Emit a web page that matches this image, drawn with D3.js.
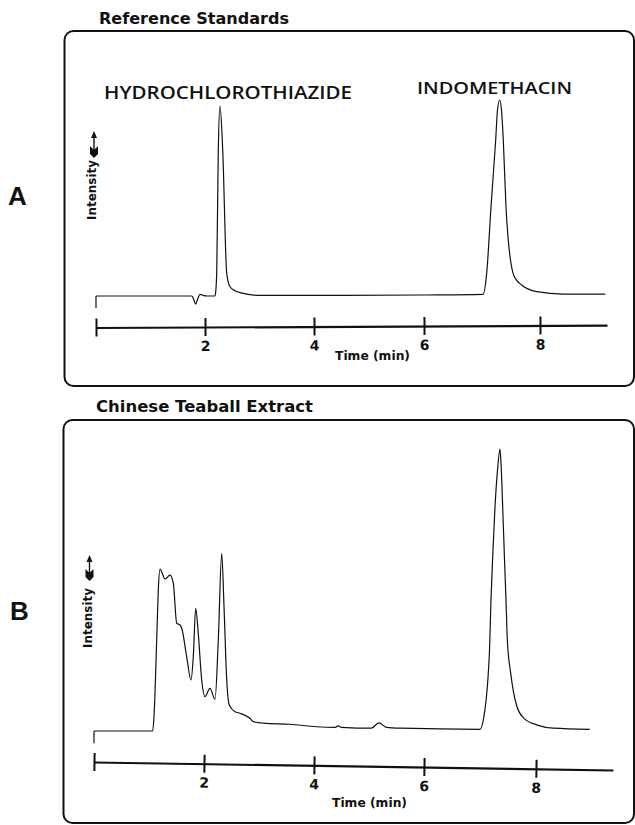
<!DOCTYPE html>
<html>
<head>
<meta charset="utf-8">
<script src="https://cdn.jsdelivr.net/npm/d3@7/dist/d3.min.js"></script>
<style>
  html, body { margin: 0; padding: 0; background: #fff; }
  svg { display: block; }
</style>
</head>
<body>
<svg id="chart" width="635" height="825"></svg>
<script>
// ---------------- DATA ----------------
const timeTicks = [0, 2, 4, 6, 8];
const tickLabels = ["", "2", "4", "6", "8"];
const panelTitles = ["Reference Standards", "Chinese Teaball Extract"];
const panelLetters = ["A", "B"];
const peakNames = ["HYDROCHLOROTHIAZIDE", "INDOMETHACIN"];
const yLabel = "Intensity";
const xLabel = "Time (min)";

// Panel A: reference standards (time in min, intensity in % of full scale)
const refTime = [0, 1.756, 1.79, 1.829, 1.87, 1.908, 1.97, 2.031, 2.183, 2.192, 2.215, 2.244, 2.275, 2.325, 2.398, 2.459, 2.55, 2.642, 3.009, 4.5, 6.0, 7.017, 7.081, 7.155, 7.236, 7.267, 7.305, 7.336, 7.367, 7.414, 7.534, 7.6, 7.684, 7.943, 8.397, 9.12];
const refIntensity = [0, 0, -1.5, -4.1, -1.2, 0.8, 0.3, 0, 0, 1.0, 11.7, 74.5, 96.9, 74.5, 11.7, 4.7, 2.7, 1.7, 0.3, 0.3, 0.5, 0.8, 11.7, 45.4, 79.6, 94.9, 100, 94.9, 79.6, 45.4, 11.7, 8.0, 5.6, 2.2, 1.0, 1.0];
const refStartMark = -6.1;

// Panel B: Chinese teaball extract
const teaTime = [0, 1.067, 1.091, 1.14, 1.169, 1.2, 1.291, 1.382, 1.442, 1.504, 1.564, 1.594, 1.685, 1.764, 1.805, 1.849, 1.896, 1.958, 2.018, 2.109, 2.2, 2.26, 2.322, 2.364, 2.413, 2.46, 2.564, 2.655, 2.836, 2.897, 3.14, 3.564, 4.049, 4.382, 4.442, 4.5, 5.045, 5.18, 5.318, 5.564, 7.0, 7.059, 7.148, 7.17, 7.196, 7.232, 7.268, 7.313, 7.357, 7.375, 7.405, 7.438, 7.464, 7.488, 7.548, 7.66, 7.786, 8.024, 8.31, 8.96];
const teaIntensity = [0, 0, 5.1, 32.3, 50, 57.4, 53.9, 55.3, 52.4, 38.2, 37.6, 36.5, 26.3, 18.1, 26.3, 43.5, 34.6, 18.1, 12.2, 15.1, 11.2, 32.3, 63, 44.1, 18.1, 9.2, 6.8, 6.3, 4.5, 3.3, 2.7, 2.4, 1.5, 1.3, 1.8, 1.3, 1.0, 2.9, 1.3, 1.0, 0.6, 3.9, 20.5, 28.7, 46.5, 64.2, 79.5, 92.6, 100, 95, 79.5, 60.6, 46.5, 32.3, 20.5, 8.6, 4.5, 2.1, 1.0, 0.6];
const teaStartMark = -4.3;

// ---------------- LAYOUT ----------------
const panels = [
  {
    title: panelTitles[0], letter: panelLetters[0],
    time: refTime, intensity: refIntensity, startMark: refStartMark,
    box: {x: 64.5, y: 31, w: 569.5, h: 355},
    titlePos: {x: 99, y: 24, len: 190},
    letterPos: {x: 8, y: 205},
    xDomain: [0, 2, 4, 6, 8, 9.15], xRange: [96, 205, 314, 424, 540, 607],
    yRange: [296, 100],
    axisY: 327.5, axisRot: -0.26,
    yLabelPos: {x: 96, y: 190}, arrow: {x: 94, tip: 131, tail: 157},
    xLabelPos: {x: 335, y: 360},
    names: true
  },
  {
    title: panelTitles[1], letter: panelLetters[1],
    time: teaTime, intensity: teaIntensity, startMark: teaStartMark,
    box: {x: 63.5, y: 420, w: 570.5, h: 403},
    titlePos: {x: 96, y: 412, len: 217},
    letterPos: {x: 10, y: 620},
    xDomain: [0, 2, 4, 6, 8, 9.375], xRange: [94, 204, 314, 424, 536, 613],
    yRange: [731, 449],
    axisY: 762, axisRot: 0.88,
    yLabelPos: {x: 91.5, y: 618}, arrow: {x: 89.5, tip: 555, tail: 580},
    xLabelPos: {x: 332, y: 807},
    names: false
  }
];

const svg = d3.select("#chart");
const ink = "#111";

panels.forEach(p => {
  const g = svg.append("g");

  // Rounded frame
  g.append("rect")
    .attr("x", p.box.x).attr("y", p.box.y)
    .attr("width", p.box.w).attr("height", p.box.h)
    .attr("rx", 9).attr("ry", 9)
    .attr("fill", "none").attr("stroke", ink).attr("stroke-width", 2);

  // Panel title
  g.append("text")
    .attr("x", p.titlePos.x).attr("y", p.titlePos.y)
    .attr("textLength", p.titlePos.len).attr("lengthAdjust", "spacingAndGlyphs")
    .style("font-family", "'DejaVu Sans', sans-serif")
    .style("font-weight", "bold").style("font-size", "16px")
    .attr("fill", ink).text(p.title);

  // Panel letter
  g.append("text")
    .attr("x", p.letterPos.x).attr("y", p.letterPos.y)
    .style("font-family", "'Liberation Sans', Arial, sans-serif")
    .style("font-weight", "bold").style("font-size", "26px")
    .attr("fill", ink).text(p.letter);

  // Scales
  const x = d3.scaleLinear().domain(p.xDomain).range(p.xRange);
  const y = d3.scaleLinear().domain([0, 100]).range(p.yRange);

  // Trace
  const pts = p.time.map((t, i) => [t, p.intensity[i]]);
  const line = d3.line()
    .x(d => x(d[0])).y(d => y(d[1]))
    .curve(d3.curveMonotoneX);
  g.append("path")
    .attr("d", line(pts))
    .attr("fill", "none").attr("stroke", ink)
    .attr("stroke-width", 1.2).attr("stroke-linejoin", "round");

  // Pen start mark
  g.append("line")
    .attr("x1", x(0)).attr("x2", x(0))
    .attr("y1", y(0)).attr("y2", y(p.startMark))
    .attr("stroke", ink).attr("stroke-width", 1.2);

  // Time axis
  const x0 = x(0);
  const axisG = g.append("g")
    .attr("transform", `translate(0,${p.axisY}) rotate(${p.axisRot},${x0},0)`);
  axisG.call(
    d3.axisBottom(x)
      .tickValues(timeTicks)
      .tickFormat((d, i) => tickLabels[i])
      .tickSize(9).tickSizeOuter(0).tickPadding(5)
  );
  axisG.select(".domain").attr("stroke", ink).attr("stroke-width", 2.2);
  axisG.selectAll(".tick line")
    .attr("y1", -9).attr("y2", 9)
    .attr("stroke", ink).attr("stroke-width", 2);
  axisG.selectAll(".tick text")
    .attr("fill", ink)
    .style("font-family", "'DejaVu Sans', sans-serif")
    .style("font-weight", "bold").style("font-size", "14px");

  // X label
  g.append("text")
    .attr("x", p.xLabelPos.x).attr("y", p.xLabelPos.y)
    .attr("textLength", 75).attr("lengthAdjust", "spacingAndGlyphs")
    .style("font-family", "'DejaVu Sans', sans-serif")
    .style("font-weight", "bold").style("font-size", "12.5px")
    .attr("fill", ink).text(xLabel);

  // Y label (rotated)
  g.append("text")
    .attr("transform", `translate(${p.yLabelPos.x},${p.yLabelPos.y}) rotate(-90)`)
    .attr("text-anchor", "middle")
    .attr("textLength", 60).attr("lengthAdjust", "spacingAndGlyphs")
    .style("font-family", "'DejaVu Sans', sans-serif")
    .style("font-weight", "bold").style("font-size", "12px")
    .attr("fill", ink).text(yLabel);

  // Intensity arrow: small head on top, bold fletching at the tail
  const a = p.arrow;
  const b = a.tail;
  g.append("line")
    .attr("x1", a.x).attr("x2", a.x).attr("y1", a.tip + 4).attr("y2", b - 6)
    .attr("stroke", ink).attr("stroke-width", 1.4);
  g.append("path")
    .attr("d", `M${a.x},${a.tip} L${a.x - 3},${a.tip + 7} L${a.x + 3},${a.tip + 7} Z`)
    .attr("fill", ink);
  g.append("path")
    .attr("d", `M${a.x - 4},${b - 11} L${a.x},${b - 7} L${a.x + 4},${b - 11} L${a.x + 4},${b - 3} L${a.x},${b + 1} L${a.x - 4},${b - 3} Z`)
    .attr("fill", ink);

  // Peak names (panel A)
  if (p.names) {
    g.append("text")
      .attr("x", 104).attr("y", 99)
      .attr("textLength", 248).attr("lengthAdjust", "spacingAndGlyphs")
      .style("font-family", "'Open Sans', 'DejaVu Sans', sans-serif")
      .style("font-weight", "600").style("font-size", "17.5px")
      .attr("fill", ink).text(peakNames[0]);
    g.append("text")
      .attr("x", 417).attr("y", 94)
      .attr("textLength", 155).attr("lengthAdjust", "spacingAndGlyphs")
      .style("font-family", "'Open Sans', 'DejaVu Sans', sans-serif")
      .style("font-weight", "600").style("font-size", "17px")
      .attr("fill", ink).text(peakNames[1]);
  }
});
</script>
</body>
</html>
